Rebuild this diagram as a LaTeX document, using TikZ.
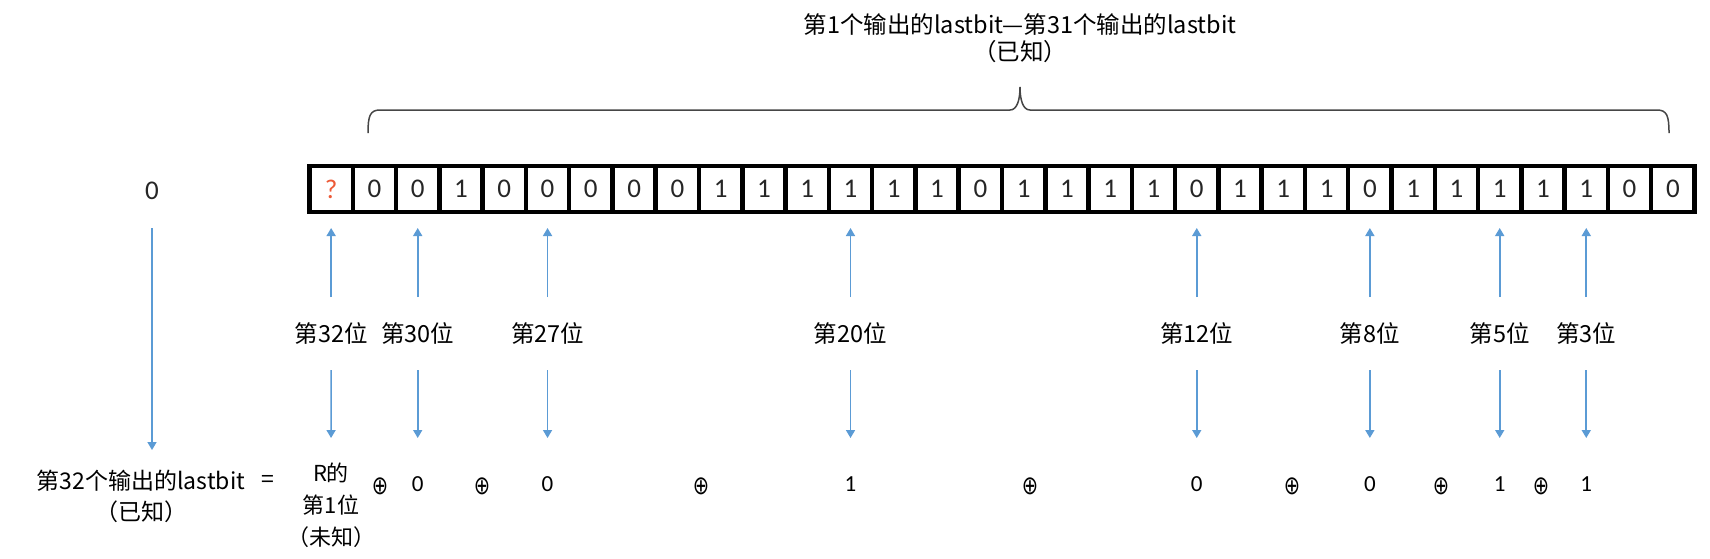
\documentclass[tikz,border=0pt]{standalone}
\usepackage{fontspec}
\newfontfamily\cjk{Noto Sans CJK SC}
\newfontfamily\digitfont{Carlito}
\newfontfamily\symfont{DejaVu Sans}
\usetikzlibrary{arrows.meta}
\definecolor{arrblue}{RGB}{91,155,213}
\definecolor{qred}{RGB}{237,90,55}
\definecolor{bracegray}{RGB}{70,70,70}
\tikzset{
 cellbox/.style={draw=black, line width=4.5pt, fill=white, minimum width=43.28pt, minimum height=46pt, inner sep=0pt, font=\digitfont\fontsize{27}{27}\selectfont, text=black!85},
 bitlbl/.style={font=\cjk\fontsize{23.5}{23.5}\selectfont, inner sep=0pt},
 txt/.style={font=\cjk\fontsize{23}{31}\selectfont, align=center, inner sep=0pt},
 vallbl/.style={font=\digitfont\fontsize{23}{23}\selectfont, inner sep=0pt},
 xorsym/.style={font=\symfont\fontsize{26}{26}\selectfont, inner sep=0pt},
 arr/.style={draw=arrblue, line width=1.6pt, -{Triangle[width=9pt,length=8pt]}},
}
\begin{document}
\begin{tikzpicture}[x=1pt,y=-1pt]
\useasboundingbox[fill=white] (0,0) rectangle (1710,558);
% register cells
\node[cellbox, text=qred] (c0) at ({309.5+43.28*0.5},189) {?};
\foreach \v [count=\i from 1] in {0,0,1,0,0,0,0,0,1,1,1,1,1,1,0,1,1,1,1,0,1,1,1,0,1,1,1,1,1,0,0}
  \node[cellbox] (c\i) at ({309.5+43.28*(\i+0.5)},189) {\v};
% brace
\draw[bracegray, line width=1.5pt] (368,133) .. controls (368,116) and (370,110) .. (380,110) -- (1010,110) .. controls (1017,110) and (1020,100) .. (1020,87) .. controls (1020,100) and (1023,110) .. (1030,110) -- (1657,110) .. controls (1667,110) and (1669,116) .. (1669,133);
\node[txt, font=\cjk\fontsize{23.5}{27}\selectfont] (top) at (1020,38) {第1个输出的lastbit—第31个输出的lastbit\\（已知）};
% left column
\node[vallbl, font=\digitfont\fontsize{27}{27}\selectfont, text=black!85] (z) at (152,191) {0};
\node[txt] (m) at (141,496) {第32个输出的lastbit\\（已知）};
\draw[arr, shorten <=37pt, shorten >=46pt] (z.center) -- (z |- m);
\node[txt] (eq) at (268,481) {=};
\node[txt, font=\cjk\fontsize{22}{32}\selectfont] (r) at (331,505) {R的\\第1位\\（未知）};
% bit labels and arrows
\foreach \b/\c in {32/0,30/2,27/5,20/12,12/20,8/24,5/27,3/29}{
  \node[bitlbl] (b\b) at ({309.5+43.28*(\c+0.5)},333) {第\b 位};
  \draw[arr, shorten <=36pt, shorten >=39pt] (b\b.center) -- (c\c.center);
}
\foreach \b/\c/\v in {30/2/0,27/5/0,20/12/1,12/20/0,8/24/0,5/27/1,3/29/1}{
  \node[vallbl] (v\b) at ({309.5+43.28*(\c+0.5)},484) {\v};
  \draw[arr, shorten <=37pt, shorten >=46pt] (b\b.center) -- (v\b.center);
}
\draw[arr, shorten <=37pt, shorten >=67pt] (b32.center) -- (r.center);
% xor symbols
\foreach \x [count=\k] in {380,482,701,1030,1292,1441,1541}
  \node[xorsym] (x\k) at (\x,486) {\scalebox{0.75}[1]{⊕}};
\end{tikzpicture}
\end{document}
